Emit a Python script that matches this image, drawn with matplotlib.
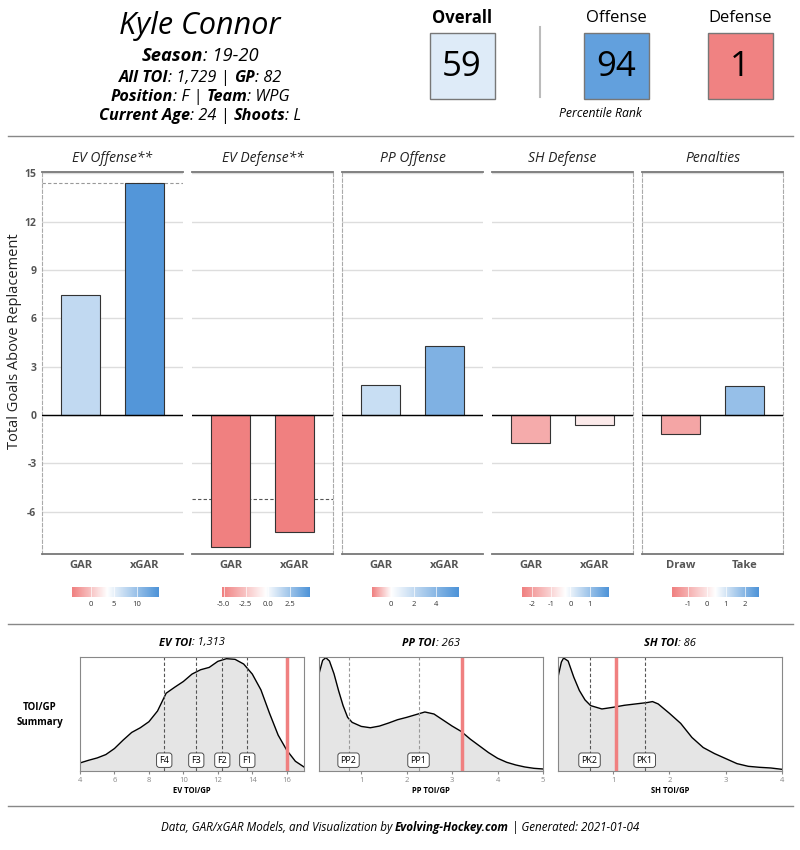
import numpy as np
import matplotlib
matplotlib.use('Agg')
import matplotlib.pyplot as plt
from matplotlib.colors import LinearSegmentedColormap, TwoSlopeNorm
from matplotlib.patches import Rectangle
from matplotlib.offsetbox import TextArea, HPacker, AnnotationBbox
import matplotlib.transforms as mtransforms

plt.rcParams['font.family'] = ['Open Sans', 'DejaVu Sans']

# ---- data ----
player = 'Kyle Connor'
season = '19-20'
all_toi = '1,729'
gp = 82
position = 'F'
team = 'WPG'
age = 24
shoots = 'L'

rank_labels = ['Overall', 'Offense', 'Defense']
rank_values = [59, 94, 1]

panel_titles = ['EV Offense**', 'EV Defense**', 'PP Offense', 'SH Defense', 'Penalties']
panel_cats = [['GAR', 'xGAR'], ['GAR', 'xGAR'], ['GAR', 'xGAR'], ['GAR', 'xGAR'], ['Draw', 'Take']]
panel_vals = [[7.44, 14.38], [-8.18, -7.25], [1.86, 4.28], [-1.74, -0.62], [-1.18, 1.80]]
panel_ref = [14.4, -5.2, None, None, None]

# colour scale for each panel (min, midpoint, max) and legend ticks
cbar_min = [-4.2, -5.2, -1.7, -2.5, -1.85]
cbar_mid = [3.5, -0.25, 0.0, -0.25, 0.45]
cbar_max = [14.8, 4.7, 6.0, 2.0, 2.75]
cbar_ticks = [[0, 5, 10], [-5.0, -2.5, 0.0, 2.5], [0, 2, 4], [-2, -1, 0, 1], [-1, 0, 1, 2]]
cbar_ticklabels = [['0', '5', '10'], ['-5.0', '-2.5', '0.0', '2.5'], ['0', '2', '4'],
                   ['-2', '-1', '0', '1'], ['-1', '0', '1', '2']]

# TOI/GP distributions (relative density)
ev_x = [4, 4.5, 5, 5.5, 6, 6.5, 7, 7.5, 8, 8.5, 9, 9.5, 10, 10.5, 11, 11.5, 12, 12.5,
        13, 13.5, 14, 14.5, 15, 15.5, 16, 16.5, 17]
ev_d = [24, 32, 39, 49, 67, 92, 115, 129, 147, 179, 232, 250, 267, 289, 302, 309, 327, 335,
        333, 319, 289, 242, 172, 107, 62, 29, 12]
pp_x = [0.07, 0.15, 0.22, 0.3, 0.4, 0.5, 0.6, 0.7, 0.8, 1.0, 1.2, 1.4, 1.6, 1.8, 2.0, 2.2,
        2.4, 2.6, 2.8, 3.0, 3.2, 3.4, 3.6, 3.8, 4.0, 4.2, 4.4, 4.6, 4.8, 5.0]
pp_d = [290, 330, 338, 328, 290, 240, 195, 160, 145, 133, 129, 134, 143, 153, 160, 168,
        176, 170, 152, 134, 118, 95, 75, 55, 38, 26, 18, 12, 8, 6]
sh_x = [0.02, 0.08, 0.12, 0.2, 0.3, 0.4, 0.5, 0.6, 0.8, 1.0, 1.2, 1.4, 1.6, 1.7, 1.8, 2.0,
        2.2, 2.4, 2.6, 2.8, 3.0, 3.2, 3.4, 3.6, 3.8, 4.0]
sh_d = [280, 325, 337, 328, 280, 240, 212, 195, 185, 190, 196, 200, 204, 207, 200, 172,
        142, 100, 70, 52, 37, 22, 14, 11, 9, 5]

toi_titles = ['EV TOI', 'PP TOI', 'SH TOI']
toi_totals = ['1,313', '263', '86']
toi_xlabels = ['EV TOI/GP', 'PP TOI/GP', 'SH TOI/GP']
player_toi_gp = [16.01, 3.21, 1.05]
role_names = [['F4', 'F3', 'F2', 'F1'], ['PP2', 'PP1'], ['PK2', 'PK1']]
role_vals = [[8.89, 10.75, 12.26, 13.71], [0.72, 2.26], [0.58, 1.56]]
toi_xlim = [(4, 17), (0.07, 5.0), (0.02, 4.0)]
toi_ticks = [[4, 6, 8, 10, 12, 14, 16], [1, 2, 3, 4, 5], [1, 2, 3, 4]]

# ---- figure ----
W, H = 800, 850
fig = plt.figure(figsize=(8, 8.5), dpi=100)
cmap = LinearSegmentedColormap.from_list('rwb', ['#F08080', '#ffffff', '#4D93D8'])


def px(x0, y0, x1, y1):
    return [x0 / W, 1 - y1 / H, (x1 - x0) / W, (y1 - y0) / H]


over = fig.add_axes([0, 0, 1, 1])
over.set_xlim(0, W)
over.set_ylim(H, 0)
over.axis('off')


def mixed(x, y, parts, size, color='black'):
    areas = [TextArea(t, textprops=dict(fontsize=size, fontstyle='italic', color=color,
                                        fontweight='bold' if b else 'normal'))
             for t, b in parts]
    box = HPacker(children=areas, align='baseline', pad=0, sep=0)
    ab = AnnotationBbox(box, (x, y), xycoords='data', frameon=False,
                        box_alignment=(0.5, 0.5), pad=0)
    over.add_artist(ab)


# header left
over.text(200, 26, player, fontsize=22, fontstyle='italic', ha='center', va='center')
mixed(200, 56, [('Season', True), (': ' + season, False)], 13.2)
mixed(200, 78, [('All TOI', True), (': ' + all_toi + ' | ', False), ('GP', True), (': %d' % gp, False)], 11.7)
mixed(200, 97, [('Position', True), (': ' + position + ' | ', False), ('Team', True), (': ' + team, False)], 11.7)
mixed(200, 116, [('Current Age', True), (': %d | ' % age, False), ('Shoots', True), (': ' + shoots, False)], 11.7)

# header right: percentile boxes
rank_norm = TwoSlopeNorm(vmin=0, vcenter=50, vmax=100)
box_x = [462, 616, 740]
for i, (lab, v) in enumerate(zip(rank_labels, rank_values)):
    over.text(box_x[i], 18, lab, fontsize=12, ha='center', va='center',
              fontweight='bold' if i == 0 else 'normal')
    over.add_patch(Rectangle((box_x[i] - 32.5, 33), 65, 66, fc=cmap(rank_norm(v)),
                             ec='#777777', lw=1))
    over.text(box_x[i], 67, str(v), fontsize=25, ha='center', va='center')
over.plot([540, 540], [27, 97], color='#bbbbbb', lw=1.5)
over.text(600, 113, 'Percentile Rank', fontsize=8.8, fontstyle='italic', ha='center', va='center')

# separators
for yy in [136, 624, 806]:
    over.plot([8, 793], [yy, yy], color='#888888', lw=1)

# ---- GAR bar panels ----
lefts = [42, 192, 342, 492, 642]
dashed_left = [True, False, True, False, True]
dashed_right = [False, True, False, True, True]
for i in range(5):
    l = lefts[i]
    ax = fig.add_axes(px(l, 172, l + 141, 554))
    norm = TwoSlopeNorm(vmin=cbar_min[i], vcenter=cbar_mid[i], vmax=cbar_max[i])
    vals = panel_vals[i]
    cols = [cmap(norm(np.clip(v, cbar_min[i], cbar_max[i]))) for v in vals]
    ax.bar([1, 2], vals, width=0.6, color=cols, edgecolor='#333333', lw=0.8, zorder=3)
    ax.set_xlim(0.4, 2.6)
    ax.set_ylim(-8.62, 15.09)
    ax.set_yticks([-6, -3, 0, 3, 6, 9, 12, 15])
    ax.grid(axis='y', color='#dddddd', lw=1, zorder=0)
    ax.set_axisbelow(True)
    ax.axhline(0, color='black', lw=1, zorder=4)
    if panel_ref[i] is not None:
        ax.axhline(panel_ref[i], color='#999999' if i == 0 else '#555555', lw=0.8,
                   ls=(0, (3, 2)), zorder=2)
    ax.set_xticks([1, 2])
    ax.set_xticklabels(panel_cats[i], fontweight='bold', color='#555555', fontsize=8)
    ax.tick_params(length=0, pad=4)
    if i == 0:
        ax.set_yticklabels(['-6', '-3', '0', '3', '6', '9', '12', '15'], fontweight='bold',
                           color='#555555', fontsize=7.5)
        ax.tick_params(axis='y', pad=4)
    else:
        ax.set_yticklabels([])
    ax.spines['top'].set_color('#777777')
    ax.spines['top'].set_linewidth(1.3)
    ax.spines['bottom'].set_color('#777777')
    ax.spines['bottom'].set_linewidth(1.3)
    for side, on in [('left', dashed_left[i]), ('right', dashed_right[i])]:
        if on:
            ax.spines[side].set_linestyle((0, (3, 2)))
            ax.spines[side].set_color('#aaaaaa')
            ax.spines[side].set_linewidth(0.8)
        else:
            ax.spines[side].set_visible(False)
    over.text(l + 70.5, 158, panel_titles[i], fontsize=10, fontstyle='italic',
              color='#222222', ha='center', va='center')

    # colour legend
    cax = fig.add_axes(px(l + 30, 587, l + 117, 597))
    grad = np.linspace(cbar_min[i], cbar_max[i], 256)
    cax.imshow(grad[None, :], cmap=cmap, norm=norm, aspect='auto',
               extent=[cbar_min[i], cbar_max[i], 0, 1])
    for t in cbar_ticks[i]:
        cax.axvline(t, color='white', lw=0.6, alpha=0.8)
    cax.set_xticks(cbar_ticks[i])
    cax.set_xticklabels(cbar_ticklabels[i], fontsize=5.5, color='#333333')
    cax.set_yticks([])
    cax.tick_params(length=0, pad=3)
    for s in cax.spines.values():
        s.set_visible(False)

fig.text(15 / W, 1 - 341 / H, 'Total Goals Above Replacement', rotation=90,
         fontsize=10.5, ha='center', va='center', color='#222222')

# ---- TOI/GP density panels ----
dens_x = [ev_x, pp_x, sh_x]
dens_y = [ev_d, pp_d, sh_d]
dens_left = [80, 319, 558]
dash_cols = ['#555555', '#999999', '#555555']
for i in range(3):
    l = dens_left[i]
    ax = fig.add_axes(px(l, 657, l + 224, 771))
    ax.fill_between(dens_x[i], dens_y[i], 0, color='#e5e5e5', lw=0)
    ax.plot(dens_x[i], dens_y[i], color='black', lw=1)
    ax.set_xlim(*toi_xlim[i])
    ax.set_ylim(0, 340)
    trans = mtransforms.blended_transform_factory(ax.transData, ax.transAxes)
    for name, v in zip(role_names[i], role_vals[i]):
        ax.axvline(v, color=dash_cols[i], lw=0.8, ls=(0, (3, 2)))
        ax.text(v, 0.095, name, transform=trans, fontsize=6.5, ha='center', va='center',
                bbox=dict(boxstyle='round,pad=0.3,rounding_size=0.3', fc='white',
                          ec='#333333', lw=0.6))
    ax.axvline(player_toi_gp[i], color='#F08080', lw=2.5)
    ax.set_yticks([])
    ax.set_xticks(toi_ticks[i])
    ax.tick_params(axis='x', labelsize=5.5, labelcolor='#888888', color='#888888',
                   length=2, pad=2)
    ax.set_xlabel(toi_xlabels[i], fontsize=5.5, fontweight='bold', labelpad=2)
    for s in ax.spines.values():
        s.set_color('#888888')
        s.set_linewidth(0.8)
    mixed(l + 112, 643, [(toi_titles[i], True), (': ' + toi_totals[i], False)], 8)

over.text(40, 715, 'TOI/GP\nSummary', fontsize=7, fontweight='bold', ha='center',
          va='center', linespacing=1.5)

# footer
mixed(400, 827, [('Data, GAR/xGAR Models, and Visualization by ', False),
                 ('Evolving-Hockey.com', True), (' | Generated: 2021-01-04', False)], 8.4)

fig.savefig('out.png', dpi=100)
